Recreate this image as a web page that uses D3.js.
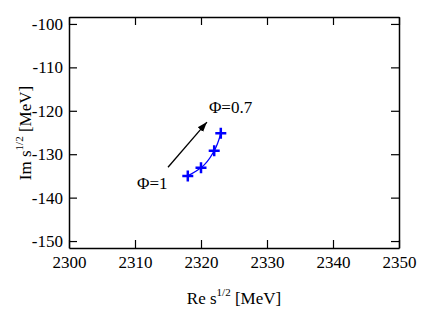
<!DOCTYPE html>
<html><head><meta charset="utf-8">
<script src="https://cdn.jsdelivr.net/npm/d3@7"></script>
</head><body style="margin:0;font-family:'Liberation Serif'">
<svg id="c" width="436" height="312" font-family="Liberation Serif">
<text x="234" y="304" text-anchor="middle" font-family="Liberation Serif" font-size="17">Re s<tspan dy="-8" font-size="11">1/2</tspan><tspan dy="8"> [MeV]</tspan></text>
<text transform="translate(31,133) rotate(-90)" text-anchor="middle" font-family="Liberation Serif" font-size="17">Im s<tspan dy="-8" font-size="11">1/2</tspan><tspan dy="8"> [MeV]</tspan></text>
</svg>
<script>
const reValues = [2318, 2320, 2322, 2323];
const imValues = [-135, -133.1, -129.2, -125.2];
const xTicks = [2300, 2310, 2320, 2330, 2340, 2350];
const yTicks = [-100, -110, -120, -130, -140, -150];
const arrowFrom = [2315, -133];
const arrowTo = [2320.9, -122.6];
const labels = [{t:"Φ=1", x:2310.3, y:-138.1}, {t:"Φ=0.7", x:2321.2, y:-120.4}];

const FONT = "Liberation Serif";
const svg = d3.select("#c");
const L=69, R=399, T=17, B=248;
const x = d3.scaleLinear().domain([2300,2350]).range([L,R]);
const y = d3.scaleLinear().domain([-151.6,-98.4]).range([B,T]);

svg.append("defs").append("marker").attr("id","ah").attr("viewBox","0 0 10 10")
 .attr("refX",10).attr("refY",5).attr("markerWidth",10).attr("markerHeight",10)
 .attr("markerUnits","userSpaceOnUse").attr("orient","auto")
 .append("path").attr("d","M0,1.5 L10,5 L0,8.5 Z").attr("fill","#000");

const fs = 17;
const gB = svg.append("g").attr("transform",`translate(0,${B})`).call(d3.axisBottom(x).tickValues(xTicks).tickSizeInner(-8).tickSizeOuter(0).tickPadding(8).tickFormat(d3.format("d")));
const gT = svg.append("g").attr("transform",`translate(0,${T})`).call(d3.axisTop(x).tickValues(xTicks).tickSizeInner(-8).tickSizeOuter(0).tickFormat(""));
const gL = svg.append("g").attr("transform",`translate(${L},0)`).call(d3.axisLeft(y).tickValues(yTicks).tickSizeInner(-8).tickSizeOuter(0).tickPadding(6).tickFormat(d=>"-"+Math.abs(d)));
const gR = svg.append("g").attr("transform",`translate(${R},0)`).call(d3.axisRight(y).tickValues(yTicks).tickSizeInner(-8).tickSizeOuter(0).tickFormat(""));
[gB,gT,gL,gR].forEach(g=>{
  g.attr("font-family",FONT).attr("font-size",fs);
  g.selectAll("path").attr("stroke","#000").attr("stroke-width",1.5);
  g.selectAll("line").attr("stroke","#000").attr("stroke-width",1.2);
  g.selectAll("text").attr("fill","#000");
});

svg.append("path").datum(reValues.map((r,i)=>[r,imValues[i]]))
 .attr("d", d3.line().x(d=>x(d[0])).y(d=>y(d[1])).curve(d3.curveMonotoneY))
 .attr("fill","none").attr("stroke","#0000ff").attr("stroke-width",1.3);
const s=5.5;
svg.append("g").selectAll("path").data(reValues.map((r,i)=>[r,imValues[i]])).join("path")
 .attr("transform",d=>`translate(${x(d[0])},${y(d[1])})`)
 .attr("d",`M${-s},0H${s}M0,${-s}V${s}`).attr("stroke","#0000ff").attr("stroke-width",2.5);

svg.append("line").attr("x1",x(arrowFrom[0])).attr("y1",y(arrowFrom[1]))
 .attr("x2",x(arrowTo[0])).attr("y2",y(arrowTo[1]))
 .attr("stroke","#000").attr("stroke-width",1.3).attr("marker-end","url(#ah)");

labels.forEach(d=>svg.append("text").attr("x",x(d.x)).attr("y",y(d.y)).attr("font-size",17).attr("font-family",FONT).text(d.t));
</script></body></html>
